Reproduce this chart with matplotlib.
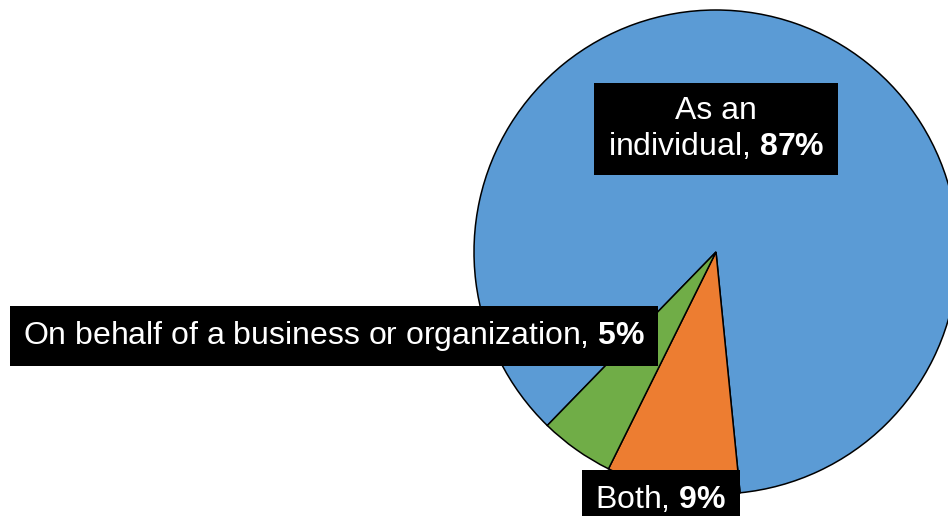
import matplotlib.pyplot as plt

plt.rcParams['font.family'] = 'Liberation Sans'
plt.rcParams['mathtext.fontset'] = 'custom'
plt.rcParams['mathtext.rm'] = 'Liberation Sans'
plt.rcParams['mathtext.bf'] = 'Liberation Sans:bold'

# share of respondents by how they took part
labels = ['As an\nindividual', 'Both', 'On behalf of a business or organization']
values = [87, 9, 5]
colors = ['#5B9BD5', '#ED7D31', '#70AD47']

fig = plt.figure(figsize=(9.48, 5.16), dpi=100)
ax = fig.add_axes([0, 0, 1, 1])

ax.pie(values, colors=colors, startangle=-134.2, counterclock=False,
       center=(716, 264), radius=242, frame=True,
       wedgeprops=dict(edgecolor='black', linewidth=1.1))
ax.set_xlim(0, 948)
ax.set_ylim(0, 516)
ax.set_aspect('equal')
ax.axis('off')

# label boxes
pos = [(716, 387), (661, 17), (334, 180)]
for lab, v, (x, y) in zip(labels, values, pos):
    ax.text(x, y, lab + ', $\\mathbf{' + str(v) + '\\%}$', color='white',
            fontsize=23, ha='center', va='center', linespacing=1.2,
            bbox=dict(boxstyle='square,pad=0.42', fc='black', ec='none'),
            clip_on=False)

fig.savefig('out.png', dpi=100)
